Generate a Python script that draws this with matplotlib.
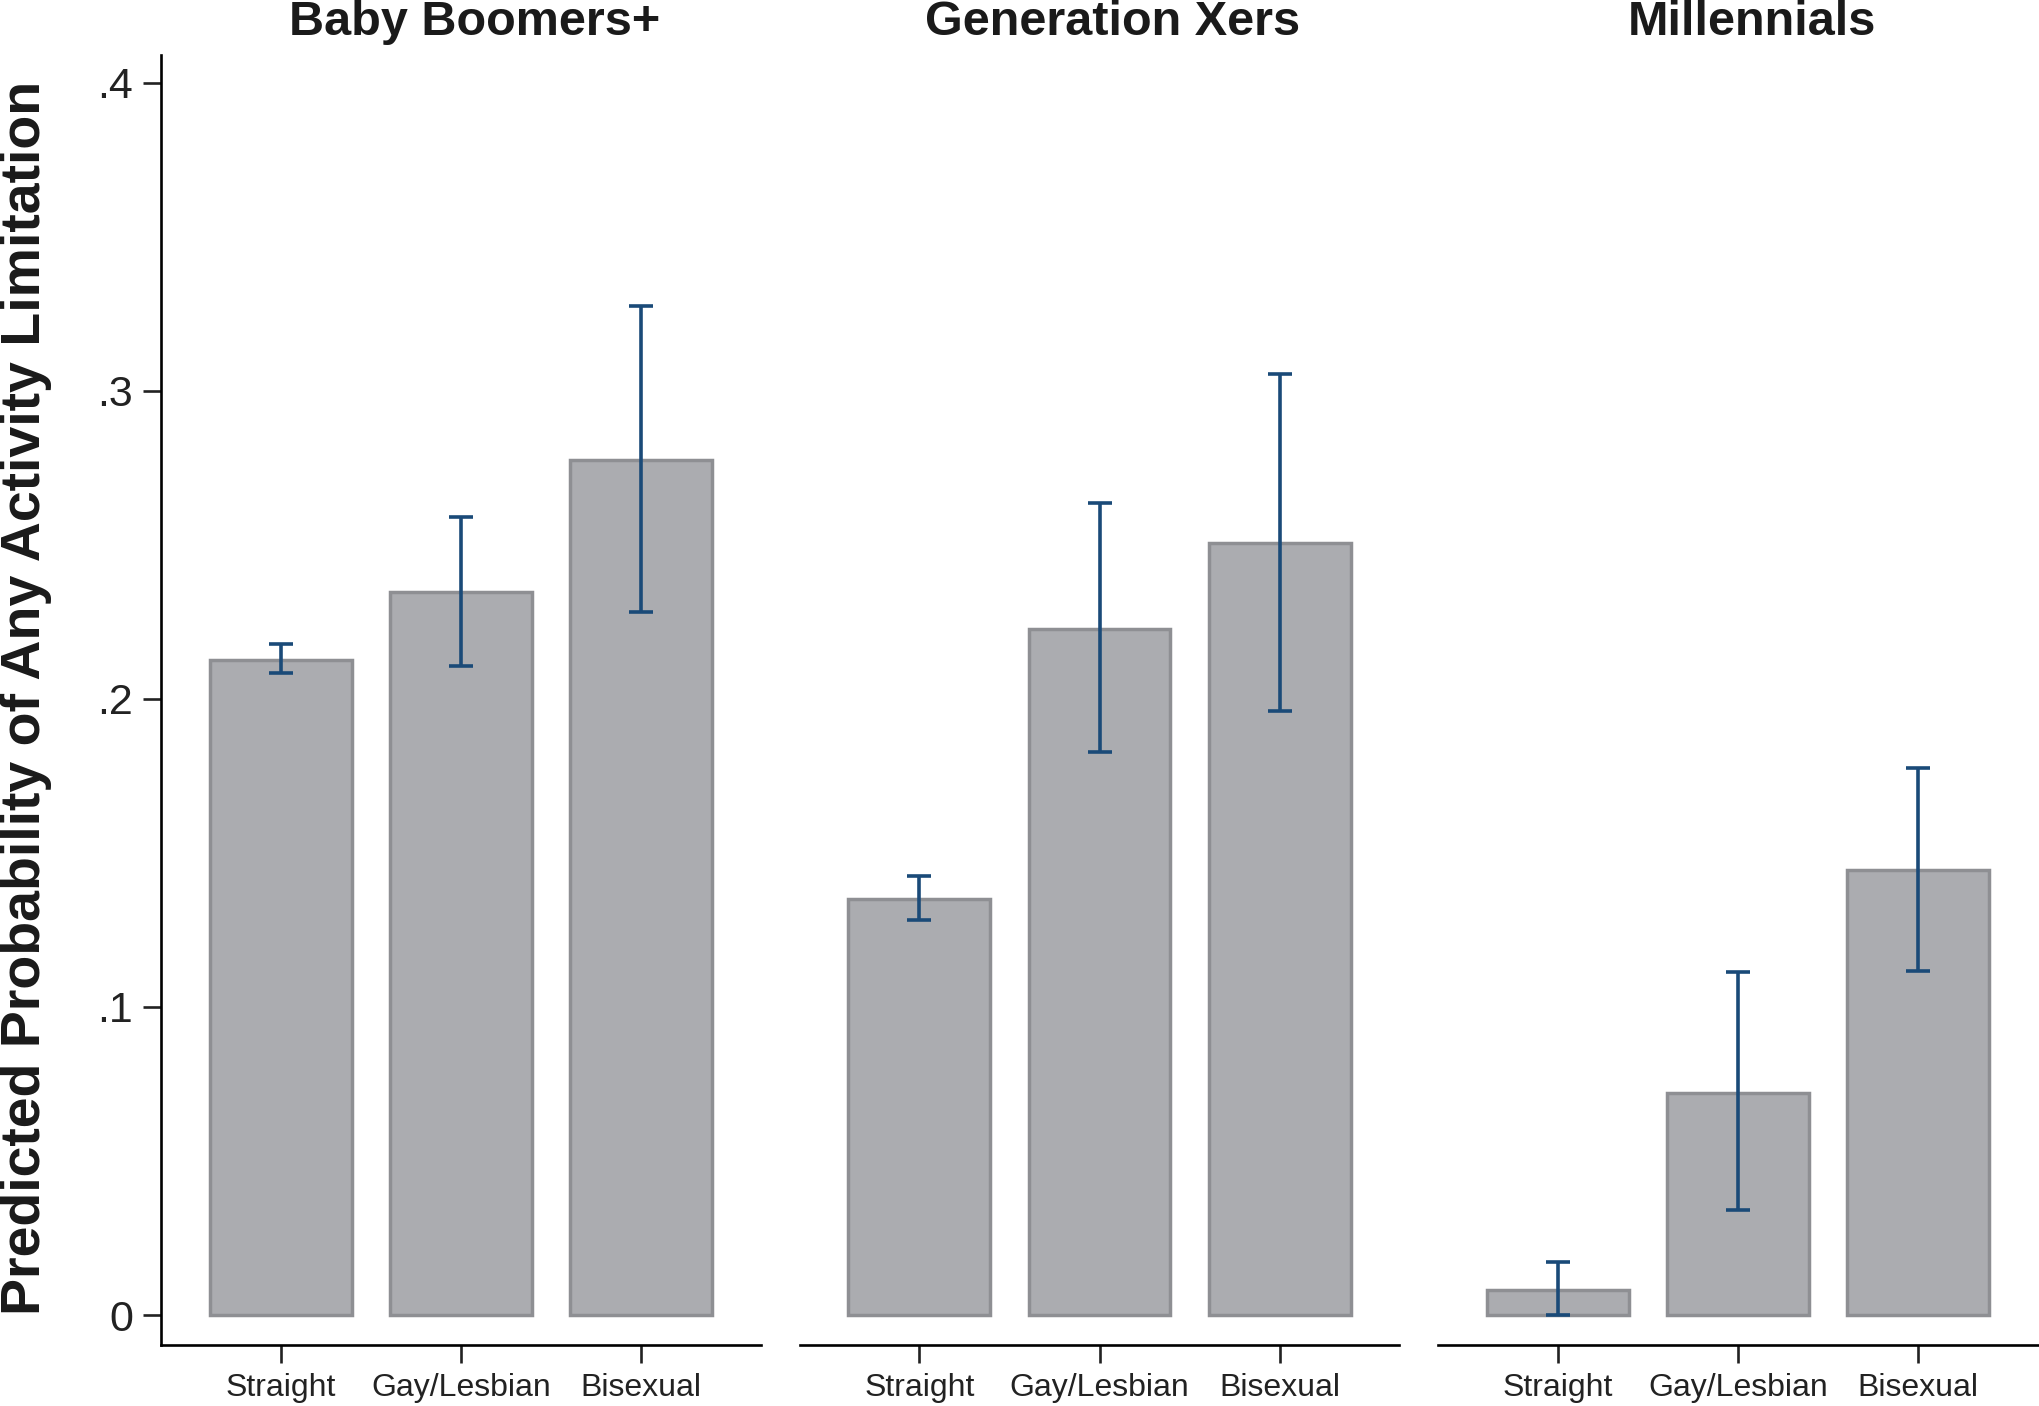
import numpy as np
import matplotlib
matplotlib.use('Agg')
import matplotlib.pyplot as plt

plt.rcParams['font.family'] = ['Liberation Sans', 'DejaVu Sans']

# --- Data ---
generations = ['Baby Boomers+', 'Generation Xers', 'Millennials']
orientations = ['Straight', 'Gay/Lesbian', 'Bisexual']
prob = [
    [0.2127, 0.2346, 0.2776],
    [0.1350, 0.2228, 0.2506],
    [0.0080, 0.0722, 0.1443],
]
ci_low = [
    [0.2084, 0.2105, 0.2283],
    [0.1283, 0.1827, 0.1962],
    [0.0000, 0.0342, 0.1118],
]
ci_high = [
    [0.2177, 0.2591, 0.3274],
    [0.1426, 0.2637, 0.3055],
    [0.0173, 0.1114, 0.1776],
]
ytick_vals = [0, 0.1, 0.2, 0.3, 0.4]
ytick_labels = ['0', '.1', '.2', '.3', '.4']

BAR_FILL = '#abacb0'
BAR_EDGE = '#8e8f93'
ERR_COL = '#1a4a78'

fig = plt.figure(figsize=(20.4, 14.06), dpi=100)
lefts = [0.0789, 0.392, 0.705]
width = 0.294
bottom, top = 0.0434, 0.961

x = np.arange(1, 4)
for i, gen in enumerate(generations):
    ax = fig.add_axes([lefts[i], bottom, width, top - bottom])
    vals = np.array(prob[i])
    lo = vals - np.array(ci_low[i])
    hi = np.array(ci_high[i]) - vals
    ax.bar(x, vals, width=0.787, color=BAR_FILL, edgecolor=BAR_EDGE, linewidth=2.5, zorder=2)
    ax.errorbar(x, vals, yerr=[lo, hi], fmt='none', ecolor=ERR_COL,
                elinewidth=2.6, capsize=8.5, capthick=2.6, zorder=3)
    ax.set_xlim(0.336, 3.664)
    ax.set_ylim(-0.0097, 0.409)
    ax.set_xticks(x)
    ax.set_xticklabels(orientations, fontsize=23)
    ax.tick_params(axis='x', length=13, width=1.9, pad=7, colors='#222222')
    for s in ['top', 'right']:
        ax.spines[s].set_visible(False)
    ax.spines['bottom'].set_linewidth(1.9)
    if i == 0:
        ax.spines['left'].set_linewidth(1.9)
        ax.set_yticks(ytick_vals)
        ax.set_yticklabels(ytick_labels, fontsize=31)
        ax.tick_params(axis='y', length=13, width=1.9, pad=7, colors='#222222')
    else:
        ax.spines['left'].set_visible(False)
        ax.set_yticks([])
    ax.text(0.5225, 1.0155, gen, transform=ax.transAxes, ha='center', va='baseline',
            fontsize=35, fontweight='bold', color='#1a1a1a')

fig.text(0.0196, 0.504, 'Predicted Probability of Any Activity Limitation',
         rotation=90, rotation_mode='anchor', ha='center', va='baseline',
         fontsize=40, fontweight='bold', color='#1a1a1a')

fig.savefig('out.png', dpi=100)
